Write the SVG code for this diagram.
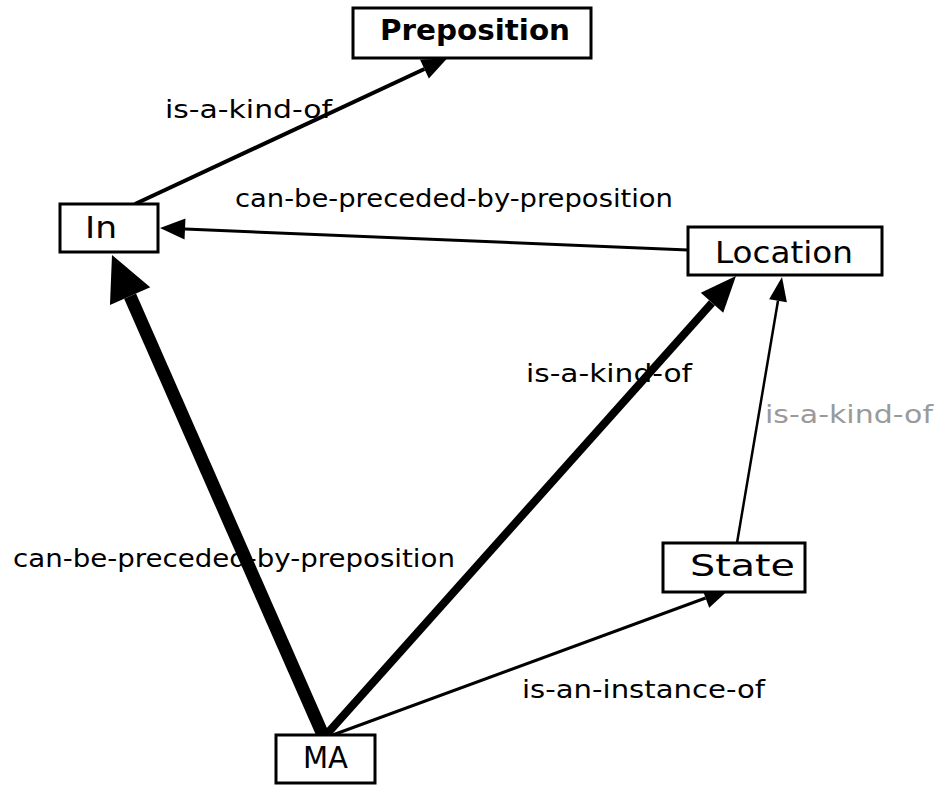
<svg xmlns="http://www.w3.org/2000/svg" width="937" height="785" viewBox="0 0 937 785">
<style>
.box{fill:#fff;stroke:#000;stroke-width:3}
.nt{font-family:"DejaVu Sans","Liberation Sans",sans-serif;font-size:31px;fill:#000}
.pt{font-family:"DejaVu Sans","Liberation Sans",sans-serif;font-size:29px;font-weight:bold;fill:#000}
.lb{font-family:"DejaVu Sans","Liberation Sans",sans-serif;font-size:24px;fill:#000}
.faint{fill:#9a9a9a}
.edge{stroke:#000;fill:none;stroke-linecap:butt}
</style>
<defs>
<marker id="ahBig" markerUnits="userSpaceOnUse" orient="auto" refX="0" refY="0" markerWidth="50" markerHeight="50" viewBox="0 -25 50 50" overflow="visible"><path d="M0,-22 L45,0 L0,22 Z" fill="#000"/></marker>
<marker id="ahMed" markerUnits="userSpaceOnUse" orient="auto" refX="0" refY="0" markerWidth="40" markerHeight="40" viewBox="0 -20 40 40" overflow="visible"><path d="M0,-15 L36,0 L0,15 Z" fill="#000"/></marker>
<marker id="ahSm" markerUnits="userSpaceOnUse" orient="auto" refX="0" refY="0" markerWidth="30" markerHeight="30" viewBox="0 -15 30 30" overflow="visible"><path d="M0,-10.5 L25,0 L0,10.5 Z" fill="#000"/></marker>
<marker id="ahTiny" markerUnits="userSpaceOnUse" orient="auto" refX="0" refY="0" markerWidth="30" markerHeight="30" viewBox="0 -15 30 30" overflow="visible"><path d="M0,-9 L24,0 L0,9 Z" fill="#000"/></marker>
</defs>
<g id="labels">
<text class="lb" x="165" y="118" textLength="167" lengthAdjust="spacingAndGlyphs">is-a-kind-of</text>
<text class="lb" x="235" y="207" textLength="438" lengthAdjust="spacingAndGlyphs">can-be-preceded-by-preposition</text>
<text class="lb" x="526" y="382" textLength="166" lengthAdjust="spacingAndGlyphs">is-a-kind-of</text>
<text class="lb faint" x="765" y="423" textLength="168" lengthAdjust="spacingAndGlyphs">is-a-kind-of</text>
<text class="lb" x="13" y="567" textLength="442" lengthAdjust="spacingAndGlyphs">can-be-preceded-by-preposition</text>
<text class="lb" x="522" y="698" textLength="243" lengthAdjust="spacingAndGlyphs">is-an-instance-of</text>
</g>
<g id="connectors">
<line class="edge" x1="135" y1="204" x2="424.4" y2="69" stroke-width="4" marker-end="url(#ahSm)"/>
<line class="edge" x1="688" y1="250" x2="185" y2="229" stroke-width="3" marker-end="url(#ahSm)"/>
<line class="edge" x1="323" y1="735" x2="130.1" y2="296.2" stroke-width="13" marker-end="url(#ahBig)"/>
<line class="edge" x1="326" y1="735" x2="712" y2="302.8" stroke-width="8" marker-end="url(#ahMed)"/>
<line class="edge" x1="737" y1="543" x2="778" y2="300.7" stroke-width="2.5" marker-end="url(#ahTiny)"/>
<line class="edge" x1="330" y1="736" x2="705.6" y2="598" stroke-width="3" marker-end="url(#ahSm)"/>
</g>
<g id="node-preposition">
<rect class="box" x="353" y="8" width="238" height="50"/>
<text class="pt" x="380" y="40" textLength="190" lengthAdjust="spacingAndGlyphs">Preposition</text>
</g>
<g id="node-in">
<rect class="box" x="60" y="204" width="98" height="48"/>
<text class="nt" x="85" y="238" textLength="32" lengthAdjust="spacingAndGlyphs">In</text>
</g>
<g id="node-location">
<rect class="box" x="688" y="227" width="194" height="48"/>
<text class="nt" x="715" y="263" textLength="138" lengthAdjust="spacingAndGlyphs">Location</text>
</g>
<g id="node-state">
<rect class="box" x="663" y="543" width="142" height="49"/>
<text class="nt" x="690" y="576" textLength="105" lengthAdjust="spacingAndGlyphs">State</text>
</g>
<g id="node-ma">
<rect class="box" x="276" y="735" width="99" height="48"/>
<text class="nt" x="303" y="768" textLength="45" lengthAdjust="spacingAndGlyphs">MA</text>
</g>
</svg>
